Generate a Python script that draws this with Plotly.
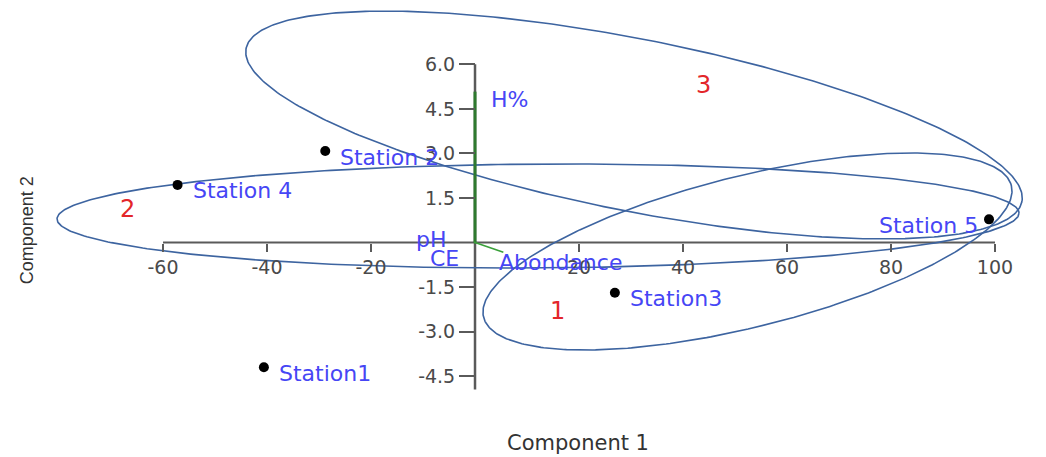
import numpy as np
import plotly.graph_objects as go

# PCA scores of the sampling stations
stations = ["Station1", "Station 2", "Station3", "Station 4", "Station 5"]
comp1 = [-40.6, -28.8, 26.9, -57.2, 98.85]
comp2 = [-4.20, 3.08, -1.69, 1.94, 0.78]

# Variable loadings (biplot vectors)
variables = ["H%", "Abondance", "pH", "CE"]
load1 = [0.0, 5.45, -0.2, -0.1]
load2 = [5.08, -0.33, 0.02, -0.03]

# Group ellipses: centre and the two semi-axis vectors (data units)
groups = ["1", "2", "3"]
ell_cx = [52.4, 12.12, 30.58]
ell_cy = [-0.303, 0.892, 3.956]
ell_ax1 = [(50.75, 2.216), (92.5, 0.10), (74.6, -2.579)]
ell_ax2 = [(3.52, -2.468), (0.0, -1.75), (-3.18, -2.84)]
group_lx = [15.77, -66.9, 43.85]
group_ly = [-2.31, 1.13, 5.30]

# Axis ticks
xticks = [-60, -40, -20, 20, 40, 60, 80, 100]
yticks = [-4.5, -3.0, -1.5, 1.5, 3.0, 4.5, 6.0]
x_extent = [-60, 100]
y_extent = [-4.95, 6.0]

X_RANGE = [-91.35, 109.81]
Y_RANGE = [-7.222, 8.165]

BLUE = "#4646f5"
RED = "#e3262a"
ELL = "#3d64a0"
GREEN = "#2e7a2e"
AXIS = "#5a5a5a"
FONT = "DejaVu Sans"

fig = go.Figure()

# confidence ellipses
t = np.linspace(0, 2 * np.pi, 400)
for cx, cy, a, b in zip(ell_cx, ell_cy, ell_ax1, ell_ax2):
    ex = cx + a[0] * np.cos(t) + b[0] * np.sin(t)
    ey = cy + a[1] * np.cos(t) + b[1] * np.sin(t)
    fig.add_trace(go.Scatter(x=ex, y=ey, mode="lines",
                             line=dict(color=ELL, width=1.6),
                             hoverinfo="skip", showlegend=False))

# axis lines crossing at the origin
fig.add_shape(type="line", x0=x_extent[0], x1=x_extent[1], y0=0, y1=0,
              xref="x", yref="y", line=dict(color=AXIS, width=2), layer="below")
fig.add_shape(type="line", x0=0, x1=0, y0=y_extent[0], y1=y_extent[1],
              xref="x", yref="y", line=dict(color=AXIS, width=2.5), layer="below")

# loading vectors
for name, lx, ly in zip(variables, load1, load2):
    fig.add_trace(go.Scatter(x=[0, lx], y=[0, ly], mode="lines",
                             line=dict(color=GREEN if name == "H%" else "#3aa03a",
                                       width=3 if name == "H%" else 1.5),
                             hoverinfo="skip", showlegend=False))

# station scores
fig.add_trace(go.Scatter(x=comp1, y=comp2, mode="markers",
                         marker=dict(color="black", size=10),
                         hoverinfo="text", text=stations, showlegend=False))

for name, sx, sy in zip(stations, comp1, comp2):
    left = name == "Station 5"
    fig.add_annotation(x=sx, y=sy, text=name, showarrow=False,
                       xanchor="right" if left else "left", yanchor="middle",
                       xshift=-9 if left else 13, yshift=-6,
                       font=dict(family=FONT, size=22, color=BLUE))

# variable labels
var_offsets = {"H%": ("left", 14, -8), "Abondance": ("left", -6, -10),
               "pH": ("right", -25, 2), "CE": ("right", -13, -15)}
for name, lx, ly in zip(variables, load1, load2):
    anc, dx, dy = var_offsets[name]
    fig.add_annotation(x=lx, y=ly, text=name, showarrow=False,
                       xanchor=anc, yanchor="middle", xshift=dx, yshift=dy,
                       font=dict(family=FONT, size=22, color=BLUE))

# group numbers
for g, gx, gy in zip(groups, group_lx, group_ly):
    fig.add_annotation(x=gx, y=gy, text=g, showarrow=False,
                       xanchor="center", yanchor="middle",
                       font=dict(family=FONT, size=24, color=RED))

# axis titles
fig.add_annotation(x=0.5526, y=0.031, xref="paper", yref="paper",
                   xanchor="center", yanchor="middle",
                   text="Component 1", showarrow=False,
                   font=dict(family=FONT, size=21, color="#333333"))
fig.add_annotation(x=0.026, y=0.4967, xref="paper", yref="paper",
                   xanchor="center", yanchor="middle",
                   text="Component 2", showarrow=False, textangle=-90,
                   font=dict(family="Liberation Sans", size=18, color="#333333"))

x_pos = (0 - Y_RANGE[0]) / (Y_RANGE[1] - Y_RANGE[0])
y_pos = (0 - X_RANGE[0]) / (X_RANGE[1] - X_RANGE[0])

fig.update_layout(
    width=1046, height=457,
    margin=dict(l=0, r=0, t=0, b=0),
    paper_bgcolor="white", plot_bgcolor="white",
    xaxis=dict(range=X_RANGE, anchor="free", position=x_pos,
               showgrid=False, zeroline=False, showline=False,
               tickmode="array", tickvals=xticks,
               ticktext=[str(v) for v in xticks],
               ticks="outside", ticklen=8, tickwidth=2, tickcolor=AXIS,
               tickfont=dict(family=FONT, size=19, color="#4a4a4a")),
    yaxis=dict(range=Y_RANGE, anchor="free", position=y_pos,
               showgrid=False, zeroline=False, showline=False,
               tickmode="array", tickvals=yticks,
               ticktext=[f"{v:.1f}" for v in yticks],
               ticks="outside", ticklen=16, tickwidth=2, tickcolor=AXIS,
               tickfont=dict(family=FONT, size=19, color="#4a4a4a")),
)

fig.write_html("out.html")
